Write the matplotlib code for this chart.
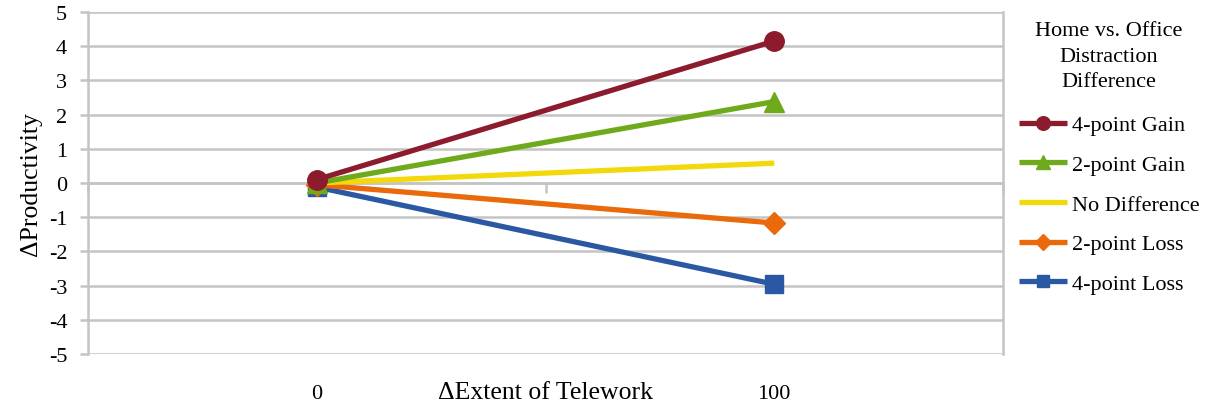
import matplotlib
matplotlib.use("Agg")
import matplotlib.pyplot as plt
import numpy as np

plt.rcParams['font.family'] = ['Liberation Serif', 'DejaVu Serif']
plt.rcParams['axes.unicode_minus'] = False

# extent of telework categories
categorias = ["0", "100"]

# change in productivity per distraction difference
gain4 = [0.1, 4.15]
gain2 = [0.0, 2.38]
nodiff = [0.0, 0.58]
loss2 = [-0.05, -1.17]
loss4 = [-0.12, -2.96]

series = ["4-point Gain", "2-point Gain", "No Difference", "2-point Loss", "4-point Loss"]
valores = [gain4, gain2, nodiff, loss2, loss4]
colores = ["#8C1B2D", "#6EAA1C", "#F3D80C", "#EA6A0B", "#2A58A3"]
marcas = ["o", "^", None, "D", "s"]
tam = [14, 14, 0, 11, 13]

gris = "#c4c4c4"
fs = 16
fs_tit = 18.5

fig = plt.figure(figsize=(12.12, 4.06), dpi=100)
ax = fig.add_axes([88/1212, 1-355/406, 915/1212, 342/406])

x = np.arange(len(categorias))
for i, (nom, v, c, m, s) in enumerate(zip(series, valores, colores, marcas, tam)):
    ax.plot(x, v, color=c, lw=3.8, marker=m, markersize=s, label=nom,
            solid_capstyle='butt', zorder=10 - i)

ax.set_xlim(-0.5, 1.5)
ax.set_ylim(-5, 5)
ax.set_yticks(range(-5, 6))
ax.yaxis.grid(True, color=gris, lw=1.8)
ax.set_axisbelow(True)
ax.tick_params(axis='y', length=6, width=1.8, color=gris, pad=9, labelsize=fs)

# eje de categorias cruzando en cero
ax.spines['bottom'].set_position(('data', 0))
ax.spines['bottom'].set_color(gris)
ax.spines['bottom'].set_linewidth(1.8)
ax.spines['top'].set_visible(False)
for lado in ['left', 'right']:
    ax.spines[lado].set_color(gris)
    ax.spines[lado].set_linewidth(1.8)
ax.set_xticks([-0.5, 0.5, 1.5])
ax.set_xticklabels([])
ax.tick_params(axis='x', length=7, width=1.8, color=gris)

sec = ax.secondary_xaxis(location=0)
sec.set_xticks(x)
sec.set_xticklabels(categorias, fontsize=fs)
sec.tick_params(length=0, pad=21.5)
sec.spines['bottom'].set_visible(False)

ax.annotate("\u0394Extent of Telework", xy=(0.5, 0), xycoords='axes fraction',
            xytext=(0, -31.5), textcoords='offset points', ha='center',
            va='baseline', fontsize=fs_tit)
ax.set_ylabel("\u0394Productivity", fontsize=fs_tit, labelpad=5)

leg = ax.legend(loc='upper left', bbox_to_anchor=(1019/1212, 1-22/406),
                bbox_transform=fig.transFigure, frameon=False, fontsize=fs,
                title="Home vs. Office\nDistraction\nDifference",
                title_fontsize=fs, markerscale=0.7, handlelength=2.15,
                handletextpad=0.22, labelspacing=0.86, borderaxespad=0,
                borderpad=0)
leg.get_title().set_multialignment('center')
leg.get_title().set_linespacing(1.47)
leg._legend_box.sep = 17

fig.savefig("out.png", dpi=100)
